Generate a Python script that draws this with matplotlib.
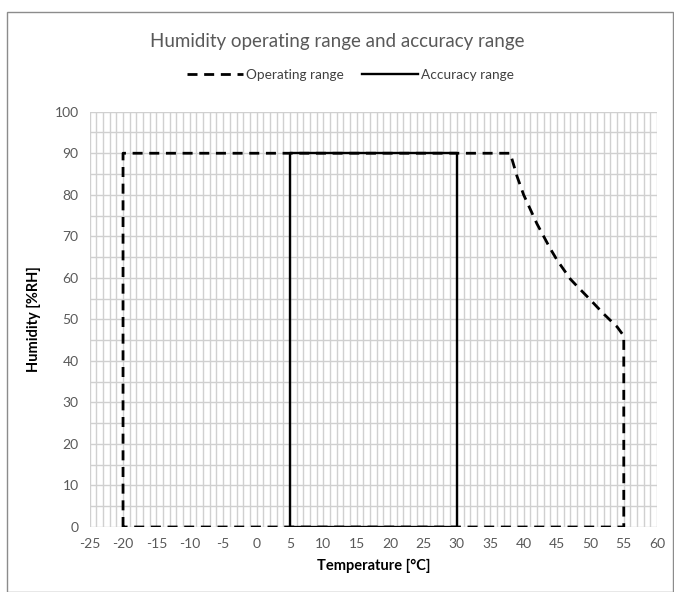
import matplotlib.pyplot as plt
from matplotlib.patches import Rectangle

plt.rcParams['font.family'] = ['Lato', 'DejaVu Sans']
plt.rcParams['axes.unicode_minus'] = False

# operating range outline (temperature, humidity)
op_temp = [-20, -20, 38, 39, 40, 41, 42, 43, 44, 45, 46, 47, 48, 50, 52, 54, 55, 55, -20]
op_hum = [0, 90, 90, 84.5, 80, 76.5, 73, 70, 67, 64.3, 62, 59.7, 58, 54.7, 51.3, 48.2, 46, 0, 0]

# accuracy range outline
acc_temp = [5, 5, 30, 30, 5]
acc_hum = [0, 90, 90, 0, 0]

x_ticks = list(range(-25, 61, 5))
y_ticks = list(range(0, 101, 10))

fig = plt.figure(figsize=(6.74, 5.92), dpi=100)
ax = fig.add_axes([0.133, 0.1098, 0.842, 0.7015])

ax.plot(op_temp, op_hum, color='black', lw=2, dashes=(3.6, 2.4),
        label='Operating range', zorder=3)
ax.plot(acc_temp, acc_hum, color='black', lw=1.7,
        label='Accuracy range', zorder=4)

ax.set_xlim(-25, 60)
ax.set_ylim(0, 100)
ax.set_xticks(x_ticks)
ax.set_yticks(y_ticks)
ax.set_xticks(range(-25, 61, 1), minor=True)
ax.set_yticks(range(0, 101, 5), minor=True)
ax.grid(True, which='both', color='#d0d0d0', lw=1)
ax.set_axisbelow(True)
for s in ax.spines.values():
    s.set_visible(False)
ax.tick_params(which='both', length=0, labelsize=10, colors='#595959', pad=8)

ax.set_xlabel('Temperature [°C]', fontsize=10.5, fontweight='bold', color='black', labelpad=6)
ax.set_ylabel('Humidity [%RH]', fontsize=10.5, fontweight='bold', color='black', labelpad=10)

fig.text(0.5, 1 - 42 / 592, 'Humidity operating range and accuracy range',
         ha='center', va='center', fontsize=13.5, color='#595959')
fig.legend(loc='center', bbox_to_anchor=(0.52, 1 - 75 / 592), ncol=2, frameon=False,
           fontsize=9.8, handlelength=4.1, handletextpad=0.2, columnspacing=1.4,
           labelcolor='#404040')

# chart area border
fig.patches.append(Rectangle((7 / 674, 0.5 / 592), 666 / 674, 580 / 592,
                             transform=fig.transFigure, fill=False,
                             edgecolor='#8c8c8c', lw=1))

fig.savefig('out.png', dpi=100)
